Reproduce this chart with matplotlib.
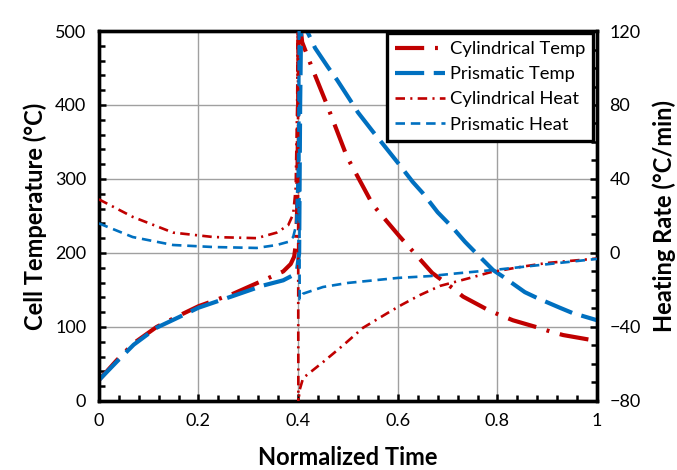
import matplotlib

matplotlib.use("Agg")

import matplotlib.pyplot as plt
from matplotlib.ticker import MultipleLocator

plt.rcParams["font.family"] = ["Lato", "DejaVu Sans"]

# cell temperature (left axis)
cyl_temp_x = [0.0, 0.036, 0.07, 0.116, 0.16, 0.2, 0.27, 0.33, 0.37, 0.385, 0.392, 0.396, 0.398,
              0.400, 0.401, 0.404, 0.408, 0.428, 0.458, 0.498, 0.55, 0.604, 0.669, 0.709, 0.731,
              0.781, 0.805, 0.831, 0.882, 0.91, 0.932, 1.0]
cyl_temp_y = [28, 55, 78, 100, 115, 128, 145, 163, 175, 185, 195, 215, 260,
              400, 520, 510, 485, 450, 400, 330, 265, 222, 173, 153, 141,
              123, 116, 109, 99, 93, 89, 81]

pri_temp_x = [0.0, 0.036, 0.07, 0.116, 0.16, 0.2, 0.27, 0.33, 0.37, 0.39, 0.398, 0.402, 0.404,
              0.406, 0.412, 0.42, 0.434, 0.46, 0.478, 0.504, 0.52, 0.55, 0.568, 0.6, 0.63, 0.65,
              0.68, 0.709, 0.735, 0.751, 0.791, 0.811, 0.855, 0.88, 0.925, 0.95, 1.0]
pri_temp_y = [28, 53, 76, 99, 113, 126, 142, 156, 163, 170, 178, 200, 400,
              510, 505, 497, 477, 451, 434, 407, 390, 364, 349, 322, 296, 281,
              255, 235, 215, 204, 177, 168, 147, 139, 126, 119, 109]

# heating rate (right axis)
cyl_heat_x = [0.0, 0.068, 0.149, 0.23, 0.317, 0.357, 0.38, 0.39, 0.395, 0.398, 0.3995, 0.4005,
              0.402, 0.41, 0.45, 0.49, 0.53, 0.58, 0.608, 0.645, 0.685, 0.745, 0.785, 0.845,
              0.9, 1.0]
cyl_heat_y = [29, 19.5, 11, 8.6, 8, 11, 15, 21, 35, 80, 140, -100,
              -75, -67.6, -59, -50, -40.5, -32.4, -28, -22.7, -17.8, -13.5, -10.5, -7.6,
              -5.4, -3]

pri_heat_x = [0.0, 0.068, 0.149, 0.23, 0.317, 0.357, 0.38, 0.39, 0.396, 0.4, 0.402, 0.403,
              0.41, 0.45, 0.5, 0.6, 0.665, 0.72, 0.8, 0.886, 1.0]
pri_heat_y = [16, 8.6, 4.3, 3.2, 2.7, 4.3, 6, 8.6, 15, 50, 140, -25,
              -22, -18.4, -16.2, -13.5, -12.5, -11, -9, -6.5, -3.2]

RED = "#C00000"
BLUE = "#0070C0"

fig = plt.figure(figsize=(6.77, 4.70), dpi=100)
ax = fig.add_axes([0.146, 0.147, 0.736, 0.787])
ax2 = ax.twinx()

l1, = ax.plot(cyl_temp_x, cyl_temp_y, color=RED, lw=3, dashes=(7, 2.6, 0.7, 2.6),
              label="Cylindrical Temp", zorder=3)
l2, = ax.plot(pri_temp_x, pri_temp_y, color=BLUE, lw=3, dashes=(7, 2.3),
              label="Prismatic Temp", zorder=3)
l3, = ax2.plot(cyl_heat_x, cyl_heat_y, color=RED, lw=1.9, dashes=(3.6, 2, 0.8, 2),
               label="Cylindrical Heat", zorder=3)
l4, = ax2.plot(pri_heat_x, pri_heat_y, color=BLUE, lw=1.9, dashes=(3.6, 2.2),
               label="Prismatic Heat", zorder=3)

ax.set_xlim(0, 1)
ax.set_ylim(0, 500)
ax2.set_ylim(-80, 120)

ax.xaxis.set_major_locator(MultipleLocator(0.2))
ax.xaxis.set_minor_locator(MultipleLocator(0.04))
ax.yaxis.set_major_locator(MultipleLocator(100))
ax.yaxis.set_minor_locator(MultipleLocator(20))
ax2.yaxis.set_major_locator(MultipleLocator(40))
ax2.yaxis.set_minor_locator(MultipleLocator(10))
ax.set_xticks([0, 0.2, 0.4, 0.6, 0.8, 1.0])
ax.set_xticklabels(["0", "0.2", "0.4", "0.6", "0.8", "1"])

ax.grid(True, which="major", color="#A0A0A0", lw=1)

for a in (ax, ax2):
    for sp in a.spines.values():
        sp.set_linewidth(2.4)
        sp.set_color("black")
    a.tick_params(which="both", direction="in", width=1.8, labelsize=13, pad=9)
    a.tick_params(which="major", length=5)
    a.tick_params(which="minor", length=4)
ax.tick_params(axis="y", which="both", right=False)
ax.tick_params(axis="x", which="both", top=False)

ax.set_xlabel("Normalized Time", fontsize=17, fontweight="bold", labelpad=12)
ax.set_ylabel("Cell Temperature (°C)", fontsize=17, fontweight="bold", labelpad=6)
ax2.set_ylabel("Heating Rate (°C/min)", fontsize=17, fontweight="bold", labelpad=8)

leg = ax2.legend(handles=[l1, l2, l3, l4], loc="upper right", bbox_to_anchor=(0.992, 0.995),
                 fontsize=13.2, fancybox=False, framealpha=1, edgecolor="black",
                 handlelength=2.7, handletextpad=0.25, borderpad=0.45, labelspacing=0.5,
                 borderaxespad=0)
leg.get_frame().set_linewidth(2.4)
leg.set_zorder(10)

fig.savefig("out.png", dpi=100)
